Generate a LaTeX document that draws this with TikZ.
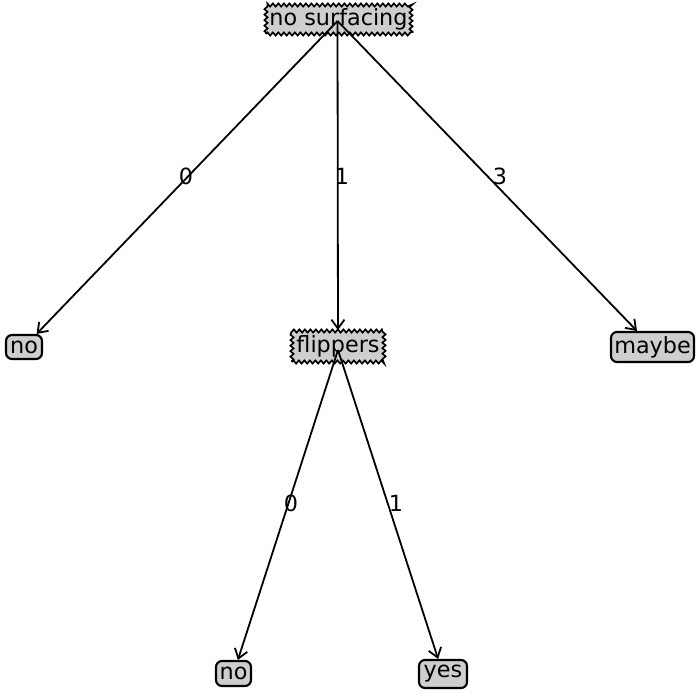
\documentclass[tikz,border=0pt]{standalone}
\usepackage{fontspec}
\setmainfont{DejaVu Sans}
\usetikzlibrary{arrows.meta,decorations.pathmorphing}
\definecolor{boxfill}{RGB}{206,206,206}
\tikzset{
  treefont/.style={font=\fontsize{22.3pt}{26pt}\selectfont},
  decision/.style={treefont, draw=black, fill=boxfill, line width=1.7pt,
    decorate, decoration={zigzag, segment length=5.5pt, amplitude=1.5pt},
    inner sep=0pt, align=center},
  leaf/.style={treefont, draw=black, fill=boxfill, line width=2.1pt,
    rounded corners=6pt, inner sep=0pt, align=center},
  edge/.style={line width=1.8pt, -{Straight Barb[length=9pt,width=13pt,line width=1.8pt]}},
  elabel/.style={treefont, inner sep=0pt}
}
\begin{document}
\begin{tikzpicture}[x=1pt,y=-1pt]
\useasboundingbox (0,0) rectangle (700,692);
% nodes
\node[decision, minimum width=145pt, minimum height=29pt] (root) at (338.5,19.5) {no surfacing};
\node[leaf, minimum width=36pt, minimum height=24pt] (no1) at (24,347) {no};
\node[decision, minimum width=92pt, minimum height=31pt] (flip) at (338,346.5) {flippers};
\node[leaf, minimum width=83pt, minimum height=30pt] (maybe) at (652.5,347) {maybe};
\node[leaf, minimum width=35pt, minimum height=25pt] (no2) at (233.5,673.5) {no};
\node[leaf, minimum width=48pt, minimum height=28pt] (yes) at (443,674) {yes};
% edge start points (parent centres)
\coordinate (rootc) at (337.5,21);
\coordinate (flipc) at (338,350);
% edges
\draw[edge] (rootc) -- (no1);
\draw[edge] (rootc) -- (flip);
\draw[edge] (rootc) -- (maybe);
\draw[edge] (flipc) -- (no2);
\draw[edge] (flipc) -- (yes);
% edge labels
\node[elabel] (l0) at (186,176) {0};
\node[elabel] (l1) at (342,176) {1};
\node[elabel] (l3) at (500,176) {3};
\node[elabel] (l4) at (291,503) {0};
\node[elabel] (l5) at (396,503) {1};
\end{tikzpicture}
\end{document}
